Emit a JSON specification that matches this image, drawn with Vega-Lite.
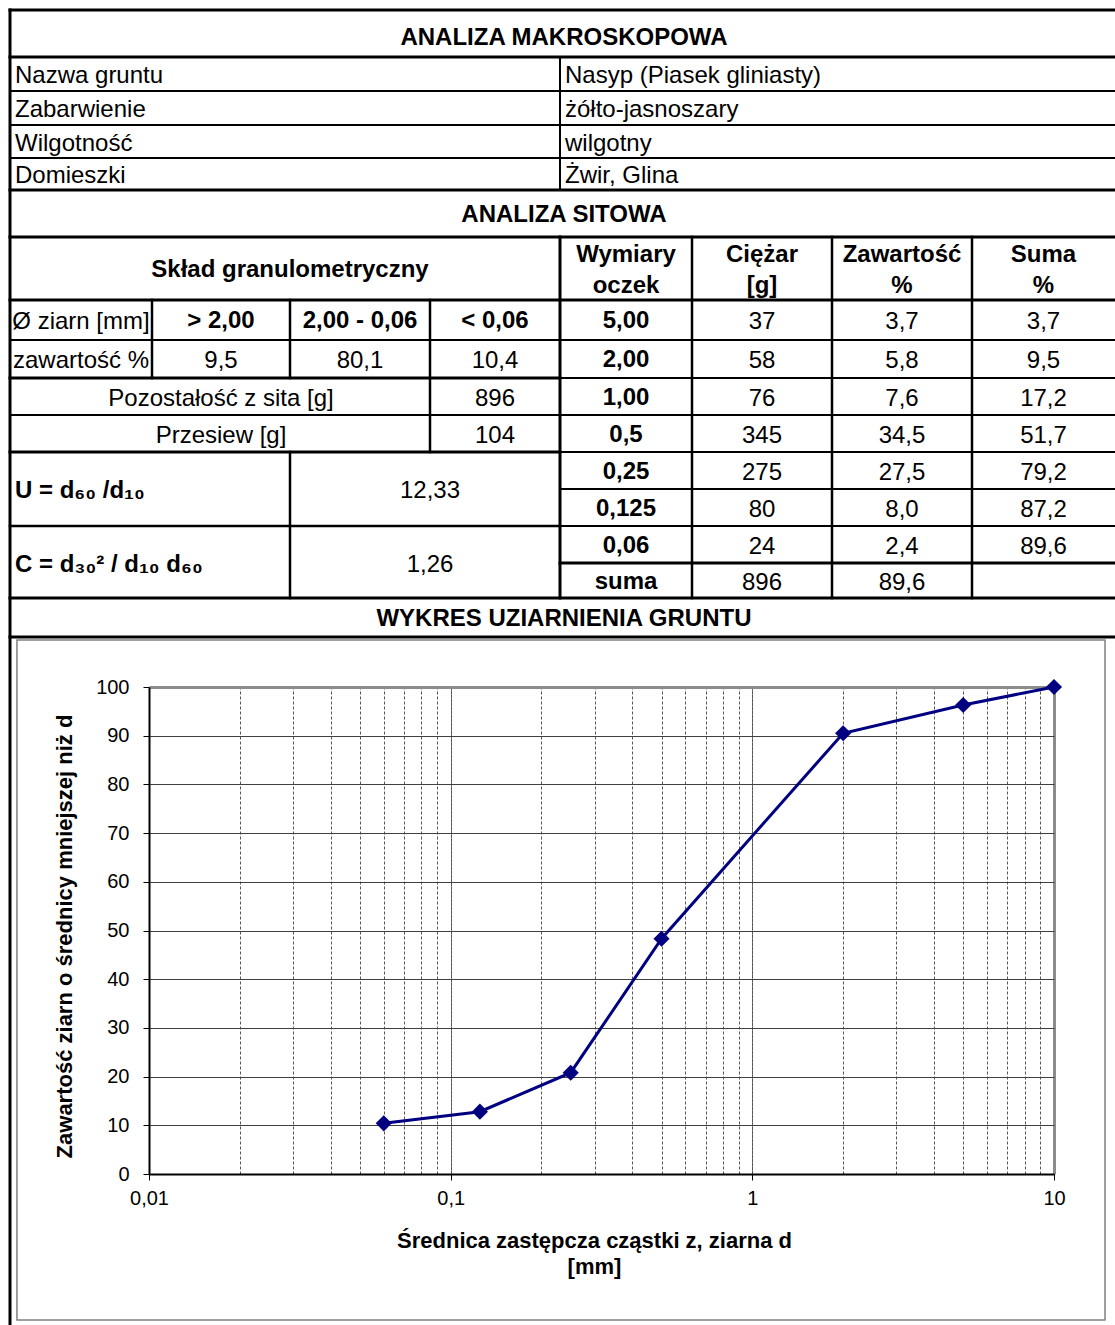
{
  "$schema": "https://vega.github.io/schema/vega-lite/v6.json",
  "width": 1115,
  "height": 1325,
  "autosize": {"type": "none"},
  "padding": 0,
  "background": "white",
  "config": {"view": {"stroke": null}, "font": "Liberation Sans"},
  "datasets": {
    "lines": [
      {"c0": 0, "c1": 8, "r0": 0, "r1": 0, "w": "thick"},
      {"c0": 0, "c1": 8, "r0": 1, "r1": 1, "w": "thick"},
      {"c0": 0, "c1": 8, "r0": 2, "r1": 2, "w": "thin"},
      {"c0": 0, "c1": 8, "r0": 3, "r1": 3, "w": "thin"},
      {"c0": 0, "c1": 8, "r0": 4, "r1": 4, "w": "thin"},
      {"c0": 0, "c1": 8, "r0": 5, "r1": 5, "w": "thick"},
      {"c0": 0, "c1": 8, "r0": 6, "r1": 6, "w": "thick"},
      {"c0": 0, "c1": 8, "r0": 7, "r1": 7, "w": "thick"},
      {"c0": 0, "c1": 8, "r0": 8, "r1": 8, "w": "thin"},
      {"c0": 0, "c1": 4, "r0": 9, "r1": 9, "w": "thick"},
      {"c0": 4, "c1": 8, "r0": 9, "r1": 9, "w": "thin"},
      {"c0": 0, "c1": 8, "r0": 10, "r1": 10, "w": "thin"},
      {"c0": 0, "c1": 4, "r0": 11, "r1": 11, "w": "thick"},
      {"c0": 4, "c1": 8, "r0": 11, "r1": 11, "w": "thin"},
      {"c0": 4, "c1": 8, "r0": 12, "r1": 12, "w": "thin"},
      {"c0": 0, "c1": 4, "r0": 13, "r1": 13, "w": "medium"},
      {"c0": 4, "c1": 8, "r0": 13, "r1": 13, "w": "thin"},
      {"c0": 4, "c1": 8, "r0": 14, "r1": 14, "w": "thick"},
      {"c0": 0, "c1": 8, "r0": 15, "r1": 15, "w": "thick"},
      {"c0": 0, "c1": 8, "r0": 16, "r1": 16, "w": "thick"},
      {"c0": 0, "c1": 0, "r0": 0, "r1": 19, "w": "thick"},
      {"c0": 4, "c1": 4, "r0": 1, "r1": 5, "w": "thin"},
      {"c0": 4, "c1": 4, "r0": 6, "r1": 15, "w": "thick"},
      {"c0": 5, "c1": 5, "r0": 6, "r1": 15, "w": "medium"},
      {"c0": 6, "c1": 6, "r0": 6, "r1": 15, "w": "medium"},
      {"c0": 7, "c1": 7, "r0": 6, "r1": 15, "w": "medium"},
      {"c0": 1, "c1": 1, "r0": 7, "r1": 9, "w": "medium"},
      {"c0": 2, "c1": 2, "r0": 7, "r1": 9, "w": "medium"},
      {"c0": 2, "c1": 2, "r0": 11, "r1": 15, "w": "medium"},
      {"c0": 3, "c1": 3, "r0": 7, "r1": 11, "w": "medium"}
    ],
    "frame": [
      {"c0": 0.049, "c1": 7.93, "r0": 17, "r1": 18}
    ],
    "cells": [
      {"t": "ANALIZA MAKROSKOPOWA", "c": 4.03, "r": 0.5, "k": "t"},
      {"t": "ANALIZA SITOWA", "c": 4.03, "r": 5.5, "k": "b"},
      {"t": "WYKRES UZIARNIENIA GRUNTU", "c": 4.03, "r": 15.5, "k": "b"},
      {"t": "Skład granulometryczny", "c": 2, "r": 6.5, "k": "b"},
      {"t": "Wymiary\noczek", "c": 4.5, "r": 6.5, "k": "h"},
      {"t": "Ciężar\n[g]", "c": 5.5, "r": 6.5, "k": "h"},
      {"t": "Zawartość\n%", "c": 6.5, "r": 6.5, "k": "h"},
      {"t": "Suma\n%", "c": 7.5, "r": 6.5, "k": "h"},
      {"t": "> 2,00", "c": 1.5, "r": 7.5, "k": "b"},
      {"t": "2,00 - 0,06", "c": 2.5, "r": 7.5, "k": "b"},
      {"t": "< 0,06", "c": 3.5, "r": 7.5, "k": "b"},
      {"t": "5,00", "c": 4.5, "r": 7.5, "k": "b"},
      {"t": "2,00", "c": 4.5, "r": 8.5, "k": "b"},
      {"t": "1,00", "c": 4.5, "r": 9.5, "k": "b"},
      {"t": "0,5", "c": 4.5, "r": 10.5, "k": "b"},
      {"t": "0,25", "c": 4.5, "r": 11.5, "k": "b"},
      {"t": "0,125", "c": 4.5, "r": 12.5, "k": "b"},
      {"t": "0,06", "c": 4.5, "r": 13.5, "k": "b"},
      {"t": "suma", "c": 4.5, "r": 14.5, "k": "b"},
      {"t": "Nazwa gruntu", "c": 0, "r": 1.5, "k": "l"},
      {"t": "Zabarwienie", "c": 0, "r": 2.5, "k": "l"},
      {"t": "Wilgotność", "c": 0, "r": 3.5, "k": "l"},
      {"t": "Domieszki", "c": 0, "r": 4.5, "k": "l"},
      {"t": "Nasyp (Piasek gliniasty)", "c": 4, "r": 1.5, "k": "l"},
      {"t": "żółto-jasnoszary", "c": 4, "r": 2.5, "k": "l"},
      {"t": "wilgotny", "c": 4, "r": 3.5, "k": "l"},
      {"t": "Żwir, Glina", "c": 4, "r": 4.5, "k": "l"},
      {"t": "U = d₆₀ /d₁₀", "c": 0, "r": 12, "k": "lb"},
      {"t": "C = d₃₀² / d₁₀  d₆₀", "c": 0, "r": 14, "k": "lb"},
      {"t": "Ø ziarn [mm]", "c": 0.5, "r": 7.5, "k": "n"},
      {"t": "zawartość %", "c": 0.5, "r": 8.5, "k": "n"},
      {"t": "9,5", "c": 1.5, "r": 8.5, "k": "n"},
      {"t": "80,1", "c": 2.5, "r": 8.5, "k": "n"},
      {"t": "10,4", "c": 3.5, "r": 8.5, "k": "n"},
      {"t": "Pozostałość z sita [g]", "c": 1.5, "r": 9.5, "k": "n"},
      {"t": "896", "c": 3.5, "r": 9.5, "k": "n"},
      {"t": "Przesiew [g]", "c": 1.5, "r": 10.5, "k": "n"},
      {"t": "104", "c": 3.5, "r": 10.5, "k": "n"},
      {"t": "12,33", "c": 3, "r": 12, "k": "n"},
      {"t": "1,26", "c": 3, "r": 14, "k": "n"},
      {"t": "37", "c": 5.5, "r": 7.5, "k": "n"},
      {"t": "3,7", "c": 6.5, "r": 7.5, "k": "n"},
      {"t": "3,7", "c": 7.5, "r": 7.5, "k": "n"},
      {"t": "58", "c": 5.5, "r": 8.5, "k": "n"},
      {"t": "5,8", "c": 6.5, "r": 8.5, "k": "n"},
      {"t": "9,5", "c": 7.5, "r": 8.5, "k": "n"},
      {"t": "76", "c": 5.5, "r": 9.5, "k": "n"},
      {"t": "7,6", "c": 6.5, "r": 9.5, "k": "n"},
      {"t": "17,2", "c": 7.5, "r": 9.5, "k": "n"},
      {"t": "345", "c": 5.5, "r": 10.5, "k": "n"},
      {"t": "34,5", "c": 6.5, "r": 10.5, "k": "n"},
      {"t": "51,7", "c": 7.5, "r": 10.5, "k": "n"},
      {"t": "275", "c": 5.5, "r": 11.5, "k": "n"},
      {"t": "27,5", "c": 6.5, "r": 11.5, "k": "n"},
      {"t": "79,2", "c": 7.5, "r": 11.5, "k": "n"},
      {"t": "80", "c": 5.5, "r": 12.5, "k": "n"},
      {"t": "8,0", "c": 6.5, "r": 12.5, "k": "n"},
      {"t": "87,2", "c": 7.5, "r": 12.5, "k": "n"},
      {"t": "24", "c": 5.5, "r": 13.5, "k": "n"},
      {"t": "2,4", "c": 6.5, "r": 13.5, "k": "n"},
      {"t": "89,6", "c": 7.5, "r": 13.5, "k": "n"},
      {"t": "896", "c": 5.5, "r": 14.5, "k": "n"},
      {"t": "89,6", "c": 6.5, "r": 14.5, "k": "n"}
    ],
    "grain": [
      {"d": 10, "p": 100},
      {"d": 5, "p": 96.3},
      {"d": 2, "p": 90.5},
      {"d": 0.5, "p": 48.3},
      {"d": 0.25, "p": 20.8},
      {"d": 0.125, "p": 12.8},
      {"d": 0.06, "p": 10.4}
    ]
  },
  "layer": [
    {
      "layer": [
        {
          "data": {"name": "lines"},
          "mark": {"type": "rule", "color": "black", "strokeCap": "square"},
          "encoding": {
            "x": {"field": "c0", "type": "quantitative", "axis": null, "scale": {"type": "linear", "domain": [0, 1, 2, 3, 4, 5, 6, 7, 8], "range": [10, 152, 290, 430, 560, 692, 832, 972, 1115], "nice": false, "zero": false}},
            "x2": {"field": "c1"},
            "y": {"field": "r0", "type": "quantitative", "axis": null, "scale": {"type": "linear", "domain": [0, 1, 2, 3, 4, 5, 6, 7, 8, 9, 10, 11, 12, 13, 14, 15, 16, 17, 18, 19], "range": [10, 57, 91, 125, 158, 190, 237, 300, 340, 378, 415, 452, 489, 526, 563, 598, 637, 640, 1320, 1325], "nice": false, "zero": false}},
            "y2": {"field": "r1"},
            "strokeWidth": {"field": "w", "type": "ordinal", "legend": null, "scale": {"domain": ["thin", "medium", "thick"], "range": [2, 3, 5]}}
          }
        },
        {
          "data": {"name": "frame"},
          "mark": {"type": "rect", "filled": false, "color": "#808080", "strokeWidth": 1.5},
          "encoding": {
            "x": {"field": "c0", "type": "quantitative", "axis": null},
            "x2": {"field": "c1"},
            "y": {"field": "r0", "type": "quantitative", "axis": null},
            "y2": {"field": "r1"}
          }
        },
        {
          "data": {"name": "cells"},
          "transform": [{"filter": "datum.k == 'b'"}],
          "mark": {"type": "text", "fontSize": 24, "fontWeight": "bold", "color": "black", "align": "center", "baseline": "middle", "dy": 1},
          "encoding": {
            "x": {"field": "c", "type": "quantitative", "axis": null},
            "y": {"field": "r", "type": "quantitative", "axis": null},
            "text": {"field": "t"}
          }
        },
        {
          "data": {"name": "cells"},
          "transform": [{"filter": "datum.k == 't'"}],
          "mark": {"type": "text", "fontSize": 24, "fontWeight": "bold", "color": "black", "align": "center", "baseline": "middle", "dy": 4},
          "encoding": {
            "x": {"field": "c", "type": "quantitative", "axis": null},
            "y": {"field": "r", "type": "quantitative", "axis": null},
            "text": {"field": "t"}
          }
        },
        {
          "data": {"name": "cells"},
          "transform": [{"filter": "datum.k == 'h'"}],
          "mark": {"type": "text", "fontSize": 24, "fontWeight": "bold", "color": "black", "align": "center", "baseline": "middle", "dy": -14, "lineBreak": "\n", "lineHeight": 31},
          "encoding": {
            "x": {"field": "c", "type": "quantitative", "axis": null},
            "y": {"field": "r", "type": "quantitative", "axis": null},
            "text": {"field": "t"}
          }
        },
        {
          "data": {"name": "cells"},
          "transform": [{"filter": "datum.k == 'n'"}],
          "mark": {"type": "text", "fontSize": 24, "color": "black", "align": "center", "baseline": "middle", "dy": 2},
          "encoding": {
            "x": {"field": "c", "type": "quantitative", "axis": null},
            "y": {"field": "r", "type": "quantitative", "axis": null},
            "text": {"field": "t"}
          }
        },
        {
          "data": {"name": "cells"},
          "transform": [{"filter": "datum.k == 'l'"}],
          "mark": {"type": "text", "fontSize": 24, "color": "black", "align": "left", "baseline": "middle", "dy": 2, "dx": 5},
          "encoding": {
            "x": {"field": "c", "type": "quantitative", "axis": null},
            "y": {"field": "r", "type": "quantitative", "axis": null},
            "text": {"field": "t"}
          }
        },
        {
          "data": {"name": "cells"},
          "transform": [{"filter": "datum.k == 'lb'"}],
          "mark": {"type": "text", "fontSize": 24, "fontWeight": "bold", "color": "black", "align": "left", "baseline": "middle", "dy": 2, "dx": 5},
          "encoding": {
            "x": {"field": "c", "type": "quantitative", "axis": null},
            "y": {"field": "r", "type": "quantitative", "axis": null},
            "text": {"field": "t"}
          }
        }
      ]
    },
    {
      "data": {"name": "grain"},
      "encoding": {
        "y": {
          "field": "p",
          "type": "quantitative",
          "scale": {"domain": [0, 100], "range": [1174, 687], "nice": false, "zero": false},
          "axis": {
            "orient": "left",
            "offset": -149,
            "values": [0, 10, 20, 30, 40, 50, 60, 70, 80, 90, 100],
            "labelFontSize": 20,
            "labelColor": "black",
            "labelPadding": 14,
            "labelFlush": false,
            "tickColor": "black",
            "tickSize": 6,
            "domainColor": "black",
            "domainWidth": 2,
            "grid": true,
            "gridOpacity": 1,
            "gridColor": {"condition": {"test": "datum.value == 100", "value": "#8c8c8c"}, "value": "#404040"},
            "gridWidth": {"condition": {"test": "datum.value == 100", "value": 3}, "value": 1},
            "title": "Zawartość ziarn o średnicy mniejszej niż d",
            "titleY": 936,
            "titleFontSize": 22,
            "titleFontWeight": "bold",
            "titleColor": "black",
            "titlePadding": 19
          }
        }
      },
      "layer": [
        {
          "mark": {"type": "line", "color": "#000080", "strokeWidth": 3},
          "encoding": {
            "x": {
              "field": "d",
              "type": "quantitative",
              "scale": {"type": "log", "domain": [0.01, 10], "range": [149, 1054], "nice": false},
              "axis": {
                "orient": "bottom",
                "offset": -151,
                "values": [0.01, 0.1, 1, 10],
                "labelExpr": "datum.value == 0.01 ? '0,01' : datum.value == 0.1 ? '0,1' : datum.value == 1 ? '1' : '10'",
                "labelFontSize": 20,
                "labelColor": "black",
                "labelPadding": 8,
                "labelFlush": false,
                "labelOverlap": false,
                "tickColor": "black",
                "tickSize": 6,
                "domainColor": "black",
                "domainWidth": 2,
                "grid": false,
                "title": ["Średnica zastępcza cząstki z, ziarna d", "[mm]"],
                "titleX": 594,
                "titleFontSize": 22,
                "titleFontWeight": "bold",
                "titleColor": "black",
                "titlePadding": 22,
                "titleLineHeight": 26
              }
            }
          }
        },
        {
          "mark": {"type": "point", "shape": "diamond", "filled": true, "size": 260, "color": "#000080", "opacity": 1},
          "encoding": {
            "x": {
              "field": "d",
              "type": "quantitative",
              "axis": {
                "orient": "top",
                "values": [0.01, 0.02, 0.03, 0.04, 0.05, 0.06, 0.07, 0.08, 0.09, 0.1, 0.2, 0.3, 0.4, 0.5, 0.6, 0.7, 0.8, 0.9, 1, 2, 3, 4, 5, 6, 7, 8, 9, 10],
                "labels": false,
                "ticks": false,
                "domain": false,
                "title": null,
                "grid": true,
                "gridOpacity": 1,
                "gridColor": {"condition": {"test": "datum.value == 10", "value": "#8c8c8c"}, "value": "#555555"},
                "gridWidth": {"condition": {"test": "datum.value == 10", "value": 3}, "value": 1},
                "gridDash": {"condition": {"test": "datum.value == 0.01 || datum.value == 0.1 || datum.value == 1 || datum.value == 10", "value": [4, 0]}, "value": [3, 2]}
              }
            }
          }
        }
      ],
      "resolve": {"axis": {"x": "independent"}}
    }
  ],
  "resolve": {"scale": {"x": "independent", "y": "independent"}}
}
